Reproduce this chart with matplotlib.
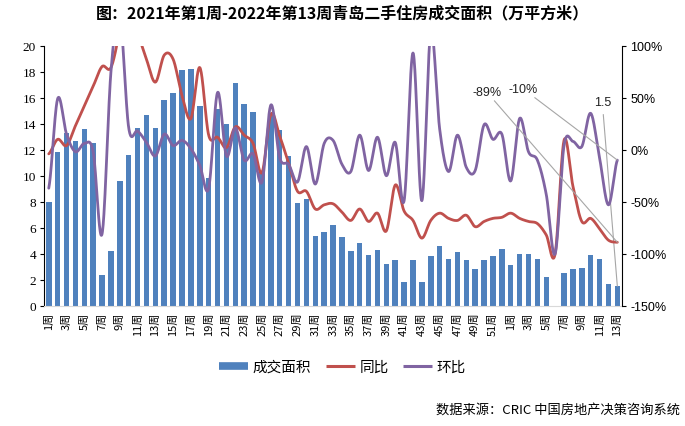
import numpy as np
import matplotlib
matplotlib.use('Agg')
import matplotlib.pyplot as plt
from matplotlib.lines import Line2D

plt.rcParams['font.family'] = ['Noto Sans CJK SC', 'DejaVu Sans']

# weeks: 2021 wk1-52, 2022 wk1-13
weeks = list(range(1, 53)) + list(range(1, 14))

# 成交面积 (万平方米)
area = [8.0, 11.8, 13.3, 12.7, 13.6, 12.5, 2.4, 4.2, 9.6, 11.6,
        13.7, 14.7, 13.7, 15.8, 16.4, 18.1, 18.2, 15.4, 9.8, 15.1,
        14.0, 17.1, 15.5, 14.9, 10.3, 14.7, 13.5, 11.5, 7.9, 8.2,
        5.4, 5.7, 6.2, 5.3, 4.2, 4.8, 3.9, 4.3, 3.2, 3.5,
        1.8, 3.5, 1.8, 3.8, 4.6, 3.6, 4.1, 3.5, 2.8, 3.5,
        3.8, 4.4, 3.1, 4.0, 4.0, 3.6, 2.2, np.nan, 2.5, 2.8,
        2.9, 3.9, 3.6, 1.7, 1.5]

# 同比 (%)
yoy = [-4, 10, 4, 23, 42, 61, 80, 79, 115, 160,
       115, 87, 65, 91, 87, 52, 30, 79, 14, 12,
       2, 22, 14, 6, -22, 34, 13, -13, -40, -40,
       -57, -53, -52, -60, -68, -57, -69, -61, -78, -34,
       -59, -68, -85, -68, -61, -66, -68, -63, -74, -69,
       -66, -65, -61, -66, -69, -71, -82, -100, 9, -35,
       -69, -66, -76, -87, -89]

# 环比 (%)
mom = [-37, 49, 15, -2, 6, -2, -81, 75, 129, 21,
       18, 7, -6, 15, 4, 9, 1, -15, -37, 55,
       -6, 21, -10, -4, -31, 43, -8, -14, -31, 3,
       -33, 6, 9, -14, -21, 14, -20, 12, -25, 7,
       -49, 93, -49, 114, 20, -21, 14, -17, -20, 24,
       10, 15, -30, 30, -2, -10, -43, -100, 4, 8,
       3, 35, -8, -53, -10]

BLUE = '#4F81BD'
RED = '#C0504D'
PURPLE = '#8064A2'


def smooth(y, n=24):
    # excel-like smoothed line (bezier, 1/6 of neighbour difference)
    y = np.asarray(y, dtype=float)
    xs, ys = [], []
    for i in range(len(y) - 1):
        p0 = y[i - 1] if i > 0 else y[i]
        p1, p2 = y[i], y[i + 1]
        p3 = y[i + 2] if i + 2 < len(y) else y[i + 1]
        c1 = p1 + (p2 - p0) / 6
        c2 = p2 - (p3 - p1) / 6
        t = np.linspace(0, 1, n, endpoint=False)
        b = (1 - t) ** 3 * p1 + 3 * (1 - t) ** 2 * t * c1 + 3 * (1 - t) * t ** 2 * c2 + t ** 3 * p2
        xs.append(i + t)
        ys.append(b)
    xs.append([len(y) - 1])
    ys.append([y[-1]])
    return np.concatenate(xs), np.concatenate(ys)


fig = plt.figure(figsize=(6.85, 4.27), dpi=100)
ax = fig.add_axes([0.0647, 0.2817, 0.843, 0.6089])
x = np.arange(len(weeks))
ax.bar(x, area, width=0.62, color=BLUE, zorder=2)
ax.set_xlim(-0.5, len(weeks) - 0.5)
ax.set_ylim(0, 20)
ax.set_yticks(range(0, 21, 2))
ax.set_yticklabels([str(v) for v in range(0, 21, 2)], fontfamily='Liberation Serif', fontsize=9.5)
ax.set_xticks(x[::2])
ax.set_xticklabels([f'{w}周' for w in weeks][::2], rotation=90, fontsize=8)
ax.tick_params(axis='x', length=0, pad=4)
ax.tick_params(axis='y', length=3, width=0.8, pad=3)
ax.spines['top'].set_visible(False)
ax.spines['right'].set_visible(False)
ax.spines['bottom'].set_color('#D9D9D9')

ax2 = ax.twinx()
ax2.set_ylim(-150, 100)
rt = list(range(-150, 101, 50))
ax2.set_yticks(rt)
ax2.set_yticklabels([f'{v}%' for v in rt], fontfamily='Liberation Sans', fontsize=9)
ax2.tick_params(axis='y', length=3, width=0.8, pad=3)
ax2.spines['top'].set_visible(False)
ax2.spines['left'].set_visible(False)
ax2.spines['bottom'].set_visible(False)

sx, sy = smooth(yoy)
ax2.plot(sx, sy, color=RED, lw=2.0, solid_capstyle='round')
sx, sy = smooth(mom)
ax2.plot(sx, sy, color=PURPLE, lw=2.0, solid_capstyle='round')

# data labels for last point
last = len(weeks) - 1
lab_kw = dict(fontfamily='Liberation Sans', fontsize=9, color='#222222')
ax2.annotate(f'{yoy[-1]}%', xy=(last, yoy[-1]), xytext=(49.3, 55.5), va='center', ha='center',
             arrowprops=dict(arrowstyle='-', color='#A6A6A6', lw=0.8, shrinkA=0, shrinkB=0), **lab_kw)
ax2.annotate(f'{mom[-1]}%', xy=(last, mom[-1]), xytext=(53.4, 58.5), va='center', ha='center',
             arrowprops=dict(arrowstyle='-', color='#A6A6A6', lw=0.8, shrinkA=0, shrinkB=0), **lab_kw)
ax.annotate(f'{area[-1]}', xy=(last, area[-1]), xytext=(62.3, 15.7), va='center', ha='center',
            arrowprops=dict(arrowstyle='-', color='#A6A6A6', lw=0.8, shrinkA=3, shrinkB=0), **lab_kw)

fig.text(0.5, 0.968, '图：2021年第1周-2022年第13周青岛二手住房成交面积（万平方米）',
         ha='center', va='center', fontsize=11.5, fontweight='bold')

handles = [Line2D([], [], color=BLUE, lw=5.5, solid_capstyle='butt'),
           Line2D([], [], color=RED, lw=2.2, solid_capstyle='butt'),
           Line2D([], [], color=PURPLE, lw=2.2, solid_capstyle='butt')]
fig.legend(handles, ['成交面积', '同比', '环比'], loc='center', bbox_to_anchor=(0.5, 0.138),
           ncol=3, frameon=False, fontsize=10.5, handlelength=2.0, columnspacing=1.0, handletextpad=0.3)

fig.text(0.992, 0.04, '数据来源：CRIC 中国房地产决策咨询系统', ha='right', va='center', fontsize=9.5)

fig.savefig('out.png', dpi=100)
